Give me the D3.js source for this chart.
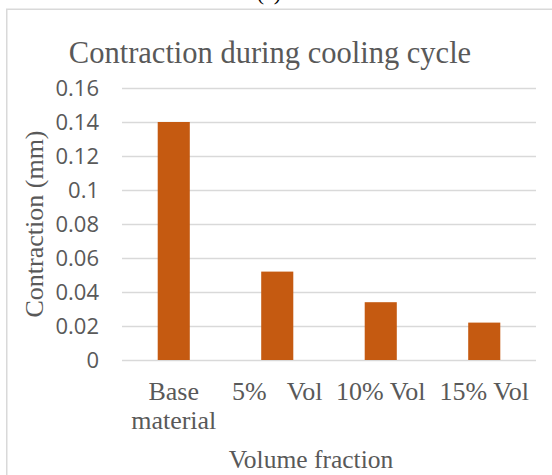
<!DOCTYPE html>
<html>
<head>
<meta charset="utf-8">
<script src="https://cdn.jsdelivr.net/npm/d3@7"></script>
<style>
  body { margin: 0; background: #fff; }
  svg { display: block; }
</style>
</head>
<body>
<div id="chart"></div>
<script>
// chart data
var categories = ["Base material", "5% Vol", "10% Vol", "15% Vol"];
var contraction = [0.14, 0.052, 0.034, 0.022];
var yTicks = [0, 0.02, 0.04, 0.06, 0.08, 0.1, 0.12, 0.14, 0.16];

var svgWidth = 552;
var svgHeight = 475;
var margin = { top: 88, right: 16, bottom: 115, left: 122 };
var chart_width = svgWidth - margin.left - margin.right;
var chart_height = svgHeight - margin.top - margin.bottom;

var textColor = "#595959";
var serif = "'Liberation Serif', 'Times New Roman', serif";
var sans = "'Open Sans', 'Liberation Sans', sans-serif";

var svg = d3.select("#chart")
    .append("svg")
    .attr("width", svgWidth)
    .attr("height", svgHeight);

svg.append("rect")
    .attr("width", svgWidth)
    .attr("height", svgHeight)
    .attr("fill", "#fff");

// chart frame (runs off the page on the right and bottom)
svg.append("rect")
    .attr("x", 6.75)
    .attr("y", 9.25)
    .attr("width", 600)
    .attr("height", 520)
    .attr("fill", "none")
    .attr("stroke", "#d9d9d9")
    .attr("stroke-width", 1.5);

// figure tag, mostly cut off at the top
svg.append("text")
    .attr("x", 269)
    .attr("y", 0)
    .attr("text-anchor", "middle")
    .attr("font-family", serif)
    .attr("font-size", 22)
    .attr("fill", "#000")
    .text("(a)");

var chartGroup = svg.append("g")
    .attr("transform", `translate(${margin.left}, ${margin.top})`);

var xScale = d3.scaleBand()
    .domain(categories)
    .range([0, chart_width])
    .paddingInner(0.69)
    .paddingOuter(0.345);

var yScale = d3.scaleLinear()
    .domain([0, 0.16])
    .range([chart_height, 0]);

// gridlines + y labels
var leftAxis = d3.axisLeft(yScale)
    .tickValues(yTicks)
    .tickFormat(d => String(+d.toFixed(2)))
    .tickSizeInner(-chart_width)
    .tickSizeOuter(0)
    .tickPadding(23);

var yAxisG = chartGroup.append("g").call(leftAxis);
yAxisG.select(".domain").remove();
yAxisG.selectAll("line")
    .attr("stroke", "#d9d9d9")
    .attr("stroke-width", 1.5);
yAxisG.selectAll("text")
    .attr("fill", textColor)
    .attr("font-family", sans)
    .attr("font-size", 22);

// bars
chartGroup.selectAll(".bar")
    .data(contraction)
    .enter()
    .append("rect")
    .attr("class", "bar")
    .attr("x", (d, i) => xScale(categories[i]))
    .attr("y", d => yScale(d))
    .attr("width", xScale.bandwidth())
    .attr("height", d => chart_height - yScale(d))
    .attr("fill", "#c55a11");

// x labels
var bottomAxis = d3.axisBottom(xScale).tickSize(0);
var xAxisG = chartGroup.append("g")
    .attr("transform", `translate(0, ${chart_height})`)
    .call(bottomAxis);
xAxisG.select(".domain").remove();

xAxisG.selectAll("text")
    .attr("fill", textColor)
    .attr("font-family", serif)
    .attr("font-size", 26)
    .attr("y", 40)
    .attr("dy", null)
    .attr("word-spacing", (d, i) => i === 1 ? 14 : 0)
    .each(function(d) {
        var t = d3.select(this);
        var words = d.split(" ");
        t.text(null);
        var line = [];
        var tspan = t.append("tspan").attr("x", 0);
        words.forEach(function(w) {
            line.push(w);
            tspan.text(line.join(" "));
            if (tspan.node().getComputedTextLength() > xScale.step() && line.length > 1) {
                line.pop();
                tspan.text(line.join(" "));
                line = [w];
                tspan = t.append("tspan")
                    .attr("x", 0)
                    .attr("dy", "1.1em")
                    .text(w);
            }
        });
    });

// title
svg.append("text")
    .attr("x", 270)
    .attr("y", 63)
    .attr("text-anchor", "middle")
    .attr("font-family", serif)
    .attr("font-size", 30.5)
    .attr("fill", textColor)
    .text("Contraction during cooling cycle");

// axis titles
svg.append("text")
    .attr("transform", `translate(43, ${margin.top + chart_height / 2}) rotate(-90)`)
    .attr("text-anchor", "middle")
    .attr("font-family", serif)
    .attr("font-size", 26)
    .attr("fill", textColor)
    .text("Contraction (mm)");

svg.append("text")
    .attr("x", 311)
    .attr("y", 468)
    .attr("text-anchor", "middle")
    .attr("font-family", serif)
    .attr("font-size", 25.5)
    .attr("fill", textColor)
    .text("Volume fraction");
</script>
</body>
</html>
